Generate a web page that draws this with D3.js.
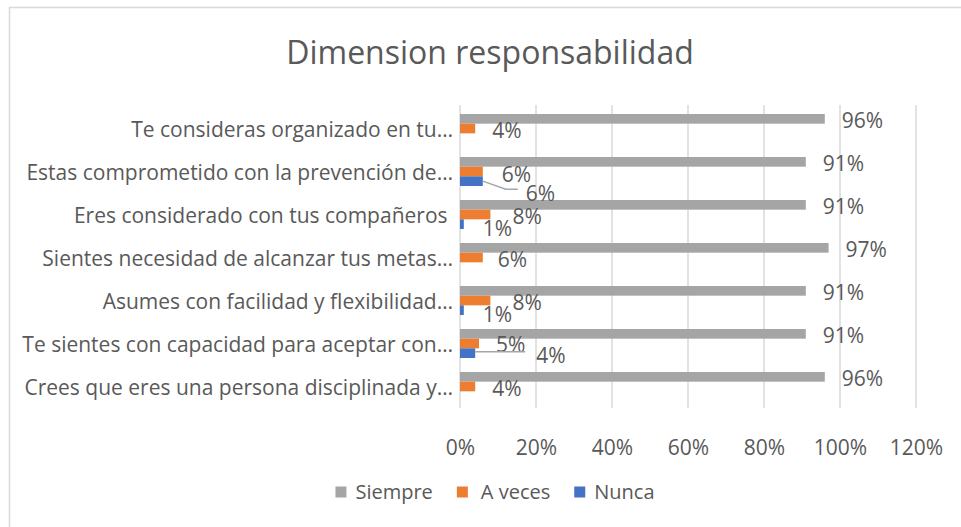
<!DOCTYPE html>
<html>
<head>
<meta charset="utf-8">
<script src="https://cdn.jsdelivr.net/npm/d3@7"></script>
<style>
  body { margin: 0; background: #fff; }
  text { font-family: "Open Sans", Lato, sans-serif; fill: #595959; }
</style>
</head>
<body>
<div id="chart"></div>
<script>
// chart data
var categories = [
  "Te consideras organizado en tu\u2026",
  "Estas comprometido con la prevención de\u2026",
  "Eres considerado con tus compañeros ",
  "Sientes necesidad de alcanzar tus metas\u2026",
  "Asumes con facilidad y flexibilidad\u2026",
  "Te sientes con capacidad para aceptar con\u2026",
  "Crees que eres una persona disciplinada y\u2026"
];
var seriesNames = ["Siempre", "A veces", "Nunca"];
var siempre = [96, 91, 91, 97, 91, 91, 96];
var aveces = [4, 6, 8, 6, 8, 5, 4];
var nunca = [0, 6, 1, 0, 1, 4, 0];
var xTicks = [0, 20, 40, 60, 80, 100, 120];
var colors = ["#A5A5A5", "#ED7D31", "#4472C4"];

// moved data labels (extra dx, dy) for a few labels, and which got leader lines
var avecesNudge = [[0, 0], [2, 1], [5, 0], [-2, 0], [5, 0], [0, -1], [0, 0]];
var nuncaNudge = [[0, 0], [26, 10], [2, 2], [0, 0], [2, 2], [44, 0], [0, 0]];
var nuncaLeader = [false, true, false, false, false, true, false];

var svgWidth = 961;
var svgHeight = 527;

var margin = { top: 107, left: 460, right: 45, bottom: 119 };

var svg = d3.select("#chart")
  .append("svg")
  .attr("width", svgWidth)
  .attr("height", svgHeight);

// outer chart border
svg.append("rect")
  .attr("x", 9.5)
  .attr("y", 7.5)
  .attr("width", 1000)
  .attr("height", 600)
  .attr("fill", "none")
  .attr("stroke", "#d9d9d9")
  .attr("stroke-width", 1.5);

// title
svg.append("text")
  .attr("x", 490)
  .attr("y", 64)
  .attr("text-anchor", "middle")
  .style("font-size", "32px")
  .text("Dimension responsabilidad");

var chartGroup = svg.append("g")
  .attr("transform", `translate(${margin.left}, ${margin.top})`);

var xScale = d3.scaleLinear()
  .domain([0, 120])
  .range([0, 456]);

var yScale = d3.scaleBand()
  .domain(categories)
  .range([0, 301])
  .paddingInner(0.326)
  .paddingOuter(0.163);

var inner = d3.scaleBand()
  .domain(seriesNames)
  .range([0, yScale.bandwidth()]);

// gridlines
chartGroup.append("g")
  .selectAll("line")
  .data(xTicks)
  .enter()
  .append("line")
  .attr("x1", d => xScale(d))
  .attr("x2", d => xScale(d))
  .attr("y1", -2)
  .attr("y2", 301)
  .attr("stroke", "#d9d9d9")
  .attr("stroke-width", 1.5);

// x axis
var xAxis = chartGroup.append("g")
  .attr("transform", `translate(0, 301)`)
  .call(d3.axisBottom(xScale).tickValues(xTicks).tickSize(0).tickPadding(32).tickFormat(d => d + "%"));
xAxis.select(".domain").remove();
xAxis.selectAll("text")
  .style("font-size", "21px")
  .attr("fill", null);

// y axis labels
var yAxis = chartGroup.append("g")
  .call(d3.axisLeft(yScale).tickSize(0).tickPadding(7));
yAxis.select(".domain").remove();
yAxis.selectAll("text")
  .style("font-size", "21px")
  .style("white-space", "pre")
  .attr("fill", null)
  .attr("dy", "0.4em");

var seriesData = [siempre, aveces, nunca];

seriesData.forEach(function(values, s) {
  var name = seriesNames[s];
  var rows = categories.map((c, i) => ({ cat: c, value: values[i], i: i }));

  chartGroup.append("g")
    .selectAll("rect")
    .data(rows)
    .enter()
    .append("rect")
    .attr("x", xScale(0))
    .attr("y", d => yScale(d.cat) + inner(name))
    .attr("width", d => xScale(d.value) - xScale(0))
    .attr("height", inner.bandwidth())
    .attr("fill", colors[s]);

  var labelRows = rows.filter(d => d.value > 0);

  if (s === 2) {
    // leader lines for the moved labels
    chartGroup.append("g")
      .selectAll("polyline")
      .data(labelRows.filter(d => nuncaLeader[d.i]))
      .enter()
      .append("polyline")
      .attr("points", function(d) {
        var x0 = xScale(d.value);
        var y0 = yScale(d.cat) + inner(name) + inner.bandwidth() / 2;
        var n = nuncaNudge[d.i];
        if (n[1] > 2) {
          return [[x0, y0], [x0 + 23, y0 + 8], [x0 + 35, y0 + 8]].join(" ");
        }
        return [[x0, y0 - 1.5], [x0 + 50, y0 - 1.5]].join(" ");
      })
      .attr("fill", "none")
      .attr("stroke", "#a6a6a6")
      .attr("stroke-width", 1.5);
  }

  chartGroup.append("g")
    .selectAll("text")
    .data(labelRows)
    .enter()
    .append("text")
    .attr("x", function(d) {
      var extra = s === 1 ? avecesNudge[d.i][0] : s === 2 ? nuncaNudge[d.i][0] : 0;
      return xScale(d.value) + 17 + extra;
    })
    .attr("y", function(d) {
      var extra = s === 1 ? avecesNudge[d.i][1] : s === 2 ? nuncaNudge[d.i][1] : 0;
      return yScale(d.cat) + inner(name) + inner.bandwidth() / 2 + 2 + extra;
    })
    .attr("dy", "0.35em")
    .style("font-size", "21px")
    .text(d => d.value + "%");
});

// legend
var legend = svg.append("g");
var lx = 0;
seriesNames.forEach(function(name, s) {
  var item = legend.append("g").attr("transform", `translate(${lx}, 0)`);
  item.append("rect")
    .attr("x", 0)
    .attr("y", -5.5)
    .attr("width", 11)
    .attr("height", 11)
    .attr("fill", colors[s]);
  var t = item.append("text")
    .attr("x", name === "A veces" ? 24 : 20)
    .attr("y", 0)
    .attr("dy", "0.35em")
    .style("font-size", "20px")
    .text(name);
  lx += (name === "A veces" ? 24 : 20) + t.node().getComputedTextLength() + 24;
});
var legendWidth = lx - 24;
legend.attr("transform", `translate(${495 - legendWidth / 2}, 492)`);
</script>
</body>
</html>
